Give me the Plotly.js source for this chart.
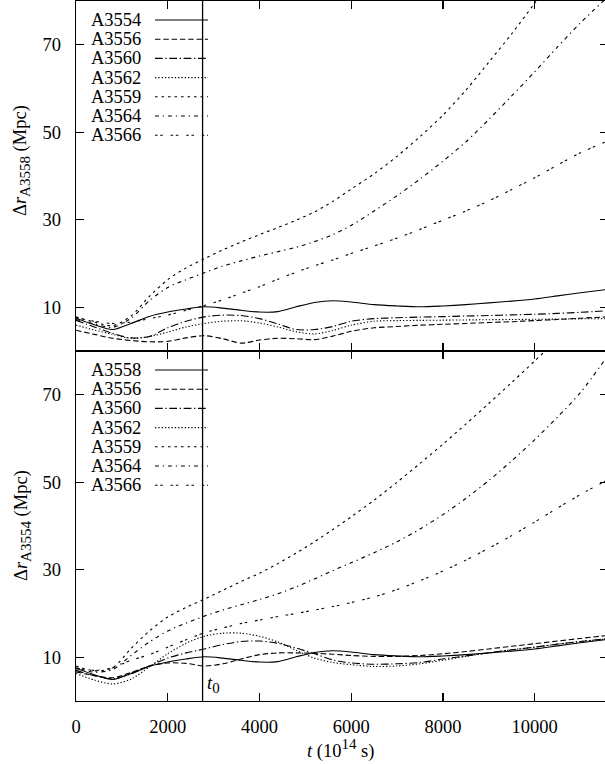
<!DOCTYPE html>
<html>
<head>
<meta charset="utf-8">
<script src="https://cdn.plot.ly/plotly-3.0.1.min.js"></script>
<style>
html,body{margin:0;padding:0;overflow:hidden;background:#fff;}
#chart{width:608px;height:764px;}
</style>
</head>
<body>
<div id="chart"></div>
<script>
// time grid (10^14 s)
const t = [0,400,800,1200,1600,2000,2400,2800,3200,3600,4000,4400,4800,5200,5600,6000,6500,7000,7500,8000,8500,9000,9500,10000,10500,11000,11600];
const t0 = 2760;

// distance A3554 <-> A3558 (same in both panels)
const r_3554_3558 = [7.5,6.0,4.9,6.3,7.9,8.9,9.6,10.1,9.8,9.3,8.9,9.0,10.1,11.1,11.5,11.2,10.6,10.3,10.1,10.3,10.6,11.0,11.4,11.9,12.6,13.3,14.1];

// top panel: distances from A3558
const top_A3556 = [4.75,3.8,2.9,2.4,2.1,2.2,3.0,3.5,2.8,1.8,2.5,2.9,2.8,2.6,3.4,4.5,5.3,5.6,5.9,6.1,6.3,6.5,6.7,6.95,7.2,7.5,7.8];
const top_A3560 = [7.0,5.5,4.0,3.0,3.3,5.3,6.8,7.8,8.2,8.1,7.4,6.2,4.9,4.9,5.6,6.8,7.4,7.6,7.75,7.85,8.0,8.1,8.25,8.4,8.6,8.85,9.2];
const top_A3562 = [5.9,4.8,3.8,2.9,3.3,4.3,5.5,6.3,6.8,6.9,6.4,5.5,4.4,3.9,4.7,5.9,6.8,6.95,7.0,7.05,7.1,7.15,7.2,7.25,7.3,7.35,7.4];
const top_A3559 = [7.8,6.6,5.8,8.0,12.5,16.3,19.0,21.1,23.1,24.9,26.6,28.2,29.9,31.8,34.2,37.0,40.5,44.5,49.0,53.9,59.6,66.0,72.5,79.5,87.0,null,null];
const top_A3564 = [7.2,6.2,5.4,7.5,11.5,14.5,16.3,17.9,19.4,20.6,21.7,22.7,23.7,25.0,26.6,28.7,32.0,35.5,39.3,43.4,47.8,52.9,58.3,63.8,69.5,75.0,81.0];
const top_A3566 = [7.6,6.8,6.3,6.6,7.4,8.2,9.3,10.4,11.7,13.2,14.7,16.4,18.0,19.5,20.8,22.3,24.0,25.8,27.8,29.9,32.0,34.3,36.9,39.6,42.5,45.3,48.0];

// bottom panel: distances from A3554
const bot_A3556 = [6.65,5.8,5.3,6.5,8.0,8.7,8.6,8.0,8.5,9.6,10.6,11.0,11.0,10.9,10.7,10.4,10.2,10.2,10.4,10.8,11.3,11.9,12.5,13.1,13.7,14.3,15.0];
const bot_A3560 = [7.0,5.8,5.1,6.2,8.0,9.8,11.0,11.9,12.9,13.6,13.7,13.2,12.1,10.8,9.4,8.7,8.4,8.5,8.8,9.6,10.3,11.0,11.7,12.3,13.0,13.6,14.3];
const bot_A3562 = [6.3,4.8,3.9,5.0,7.8,10.8,13.2,14.8,15.5,15.5,14.8,13.5,11.6,9.8,8.8,8.3,7.9,8.0,8.5,9.3,10.2,11.0,11.7,12.3,13.0,13.6,14.2];
const bot_A3559 = [8.0,6.9,7.6,12.0,16.0,19.2,21.4,23.3,25.3,27.3,29.2,31.4,33.8,36.4,39.2,42.1,45.9,50.0,54.3,58.7,63.3,68.0,72.8,77.7,82.7,null,null];
const bot_A3564 = [7.6,6.6,7.2,10.4,13.5,16.0,17.8,19.4,20.8,22.0,23.2,24.5,26.1,27.9,29.8,31.6,33.9,36.4,39.3,42.6,46.3,50.4,54.9,59.7,64.9,70.5,79.0];
const bot_A3566 = [7.4,7.0,7.6,9.3,10.6,12.3,14.0,15.6,16.7,17.7,18.5,19.3,20.0,20.8,21.6,22.5,23.8,25.5,27.5,29.7,32.2,34.9,37.8,40.9,44.1,47.2,50.6];

const topNames = ['A3554','A3556','A3560','A3562','A3559','A3564','A3566'];
const botNames = ['A3558','A3556','A3560','A3562','A3559','A3564','A3566'];
const topSeries = [r_3554_3558, top_A3556, top_A3560, top_A3562, top_A3559, top_A3564, top_A3566];
const botSeries = [r_3554_3558, bot_A3556, bot_A3560, bot_A3562, bot_A3559, bot_A3564, bot_A3566];

const xTicks = [0,2000,4000,6000,8000,10000];
const yTicks = [10,30,50,70];

// styles (gnuplot-like dash types, in legend order)
const dashes = ['solid','5.5px,2.8px','7.8px,2.6px,1.3px,2.6px','1.3px,2px','2.6px,3.9px','3.9px,3.9px,1.3px,3.9px','2.6px,2.6px,2.6px,7.8px'];

const W = 608, H = 764, ML = 76, MR = 0, MT = 1, MB = 63;
const PW = W - ML - MR, PH = H - MT - MB;
const px = x => (x - ML) / PW;
const py = y => 1 - (y - MT) / PH;
const FONT = 'Liberation Serif, Times New Roman, serif';
const FS = 18.5;

const traces = [];
topSeries.forEach((s, i) => traces.push({
  x: t, y: s, xaxis: 'x2', yaxis: 'y2', type: 'scatter', mode: 'lines',
  name: topNames[i], showlegend: false, hoverinfo: 'skip',
  line: {color: '#000', width: 1.1, dash: dashes[i], shape: 'spline', smoothing: 0.8}
}));
botSeries.forEach((s, i) => traces.push({
  x: t, y: s, xaxis: 'x', yaxis: 'y', type: 'scatter', mode: 'lines',
  name: botNames[i], showlegend: false, hoverinfo: 'skip',
  line: {color: '#000', width: 1.1, dash: dashes[i], shape: 'spline', smoothing: 0.8}
}));

const axBase = {
  showline: true, linecolor: '#000', linewidth: 1.4, mirror: 'ticks',
  ticks: 'inside', ticklen: 8, tickwidth: 1.2, tickcolor: '#000',
  showgrid: false, zeroline: false,
  tickfont: {family: FONT, size: FS, color: '#000'}
};

const annotations = [];
const shapes = [];

// t0 line
shapes.push({type: 'line', xref: 'x', yref: 'paper', x0: t0, x1: t0, y0: 0, y1: 1,
  line: {color: '#000', width: 1.3}});

// legends
function legend(names, firstY) {
  names.forEach((n, i) => {
    const yy = firstY + i * 19.2;
    annotations.push({text: n, xref: 'paper', yref: 'paper', x: px(143), y: py(yy),
      xanchor: 'right', yanchor: 'middle', showarrow: false,
      font: {family: FONT, size: FS, color: '#000'}});
    shapes.push({type: 'line', xref: 'paper', yref: 'paper', x0: px(155), x1: px(208),
      y0: py(yy), y1: py(yy), line: {color: '#000', width: 1.1, dash: dashes[i]}});
  });
}
legend(topNames, 20);
legend(botNames, 370);

// axis titles
const subStyle = 'font-size:15px';
annotations.push({text: 'Δ<i>r</i><sub><span style="' + subStyle + '">A3558</span></sub> (Mpc)', xref: 'paper', yref: 'paper',
  x: px(22), y: py(161), textangle: -90, showarrow: false, xanchor: 'center', yanchor: 'middle',
  font: {family: FONT, size: FS, color: '#000'}});
annotations.push({text: 'Δ<i>r</i><sub><span style="' + subStyle + '">A3554</span></sub> (Mpc)', xref: 'paper', yref: 'paper',
  x: px(22), y: py(526), textangle: -90, showarrow: false, xanchor: 'center', yanchor: 'middle',
  font: {family: FONT, size: FS, color: '#000'}});
annotations.push({text: '<i>t</i> (10<sup><span style="' + subStyle + '">14</span></sup> s)', xref: 'paper', yref: 'paper',
  x: px(340), y: py(749), showarrow: false, xanchor: 'center', yanchor: 'middle',
  font: {family: FONT, size: FS, color: '#000'}});
annotations.push({text: '<i>t</i><sub><span style="' + subStyle + '">0</span></sub>', xref: 'x', yref: 'paper',
  x: t0, xshift: 2, y: py(684), showarrow: false, xanchor: 'left', yanchor: 'middle',
  font: {family: FONT, size: FS, color: '#000'}});

const layout = {
  width: W, height: H,
  margin: {l: ML, r: MR, t: MT, b: MB},
  paper_bgcolor: '#fff', plot_bgcolor: '#fff',
  showlegend: false,
  xaxis: Object.assign({}, axBase, {domain: [0, 1], anchor: 'y', range: [0, 11600],
    tickvals: xTicks, ticktext: xTicks.map(String), ticklabelstandoff: 8}),
  yaxis: Object.assign({}, axBase, {domain: [0, 0.5], anchor: 'x', range: [0, 80],
    tickvals: yTicks, ticktext: yTicks.map(String), ticklabelstandoff: 10}),
  xaxis2: Object.assign({}, axBase, {domain: [0, 1], anchor: 'y2', range: [0, 11600],
    tickvals: xTicks, showticklabels: false}),
  yaxis2: Object.assign({}, axBase, {domain: [0.5, 1], anchor: 'x2', range: [0, 80],
    tickvals: yTicks, ticktext: yTicks.map(String), ticklabelstandoff: 10}),
  annotations: annotations,
  shapes: shapes
};

Plotly.newPlot('chart', traces, layout, {staticPlot: true, displayModeBar: false});
</script>
</body>
</html>
